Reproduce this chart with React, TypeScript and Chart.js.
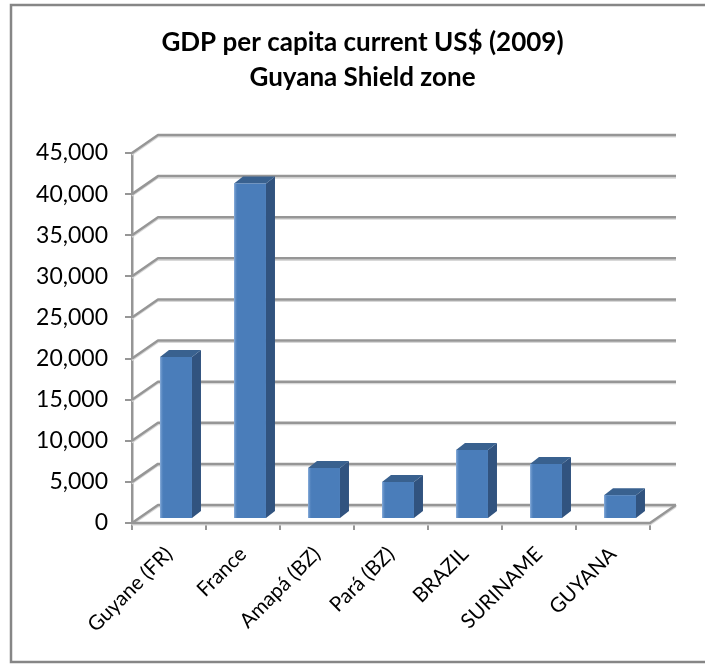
import React, { useEffect, useRef } from "react";
import { Chart, registerables } from "chart.js";

Chart.register(...registerables);

const categories = ["Guyane (FR)", "France", "Amapá (BZ)", "Pará (BZ)", "BRAZIL", "SURINAME", "GUYANA"];
const gdpPerCapita = [19700, 40800, 6200, 4500, 8400, 6700, 2900];
const titleLines = ["GDP per capita current US$ (2009)", "Guyana Shield zone"];

const FONT = "Lato";
const GRID = "#969696";
const DX = 26, DY = 18;
const BAR_DX = 7, BAR_DY = 4, SIDE_DX = 9, SIDE_DY = 7;

const depthPlugin = {
  id: "depth",
  beforeDraw(chart: any) {
    const { ctx } = chart;
    ctx.save();
    ctx.strokeStyle = "#868686";
    ctx.lineWidth = 2.5;
    ctx.strokeRect(11, 5, 800, 657);
    ctx.restore();
  },
  beforeDatasetsDraw(chart: any) {
    const { ctx, chartArea: a, scales } = chart;
    const y = scales.y;
    const stroke = (c: string, w: number, off: number, pts: number[][]) => {
      ctx.strokeStyle = c;
      ctx.lineWidth = w;
      ctx.lineJoin = "round";
      ctx.beginPath();
      pts.forEach((p, i) => (i ? ctx.lineTo(p[0], p[1] + off) : ctx.moveTo(p[0], p[1] + off)));
      ctx.stroke();
    };
    ctx.save();
    y.ticks.forEach((t: any) => {
      const py = y.getPixelForValue(t.value);
      const pts = [[a.left, py], [a.left + DX, py - DY], [a.right + DX, py - DY]];
      stroke("#d8d8d8", 1.5, 1.8, pts);
      stroke(GRID, 2.5, 0, pts);
    });
    const by = y.getPixelForValue(0);
    const floor = [[a.left, by], [a.right, by], [a.right + DX, by - DY]];
    stroke("#d8d8d8", 1.5, 1.8, floor);
    stroke(GRID, 2.5, 0, floor);
    ctx.restore();
  },
  beforeDatasetDraw(chart: any) {
    const { ctx } = chart;
    const meta = chart.getDatasetMeta(0);
    ctx.save();
    ctx.translate(BAR_DX, -BAR_DY);
    meta.data.forEach((b: any) => {
      const l = b.x - b.width / 2, r = b.x + b.width / 2;
      ctx.fillStyle = "#31537f";
      ctx.beginPath();
      ctx.moveTo(r, b.y);
      ctx.lineTo(r + SIDE_DX, b.y - SIDE_DY);
      ctx.lineTo(r + SIDE_DX, b.base - SIDE_DY);
      ctx.lineTo(r, b.base);
      ctx.closePath();
      ctx.fill();
      ctx.fillStyle = "#39618f";
      ctx.beginPath();
      ctx.moveTo(l, b.y);
      ctx.lineTo(l + SIDE_DX, b.y - SIDE_DY);
      ctx.lineTo(r + SIDE_DX, b.y - SIDE_DY);
      ctx.lineTo(r, b.y);
      ctx.closePath();
      ctx.fill();
    });
  },
  afterDatasetDraw(chart: any) {
    const { ctx } = chart;
    const meta = chart.getDatasetMeta(0);
    meta.data.forEach((b: any) => {
      const l = b.x - b.width / 2;
      const g = ctx.createLinearGradient(l, 0, l + 4, 0);
      g.addColorStop(0, "#8db0dc");
      g.addColorStop(1, "rgba(74,125,186,0)");
      ctx.fillStyle = g;
      ctx.fillRect(l, b.y, 4, b.base - b.y);
    });
    ctx.restore();
  },
};

export default function App() {
  const ref = useRef<HTMLCanvasElement>(null);
  useEffect(() => {
    const canvas = ref.current!;
    const chart = new Chart(canvas, {
      type: "bar",
      data: {
        labels: categories,
        datasets: [{ label: "GDP per capita", data: gdpPerCapita, backgroundColor: "#4a7dba", barPercentage: 1, categoryPercentage: 0.432, yAxisID: "y" }],
      },
      plugins: [depthPlugin],
      options: {
        responsive: false,
        animation: false,
        layout: { padding: 0 },
        plugins: {
          legend: { display: false },
          tooltip: { enabled: false },
          title: {
            display: true,
            text: titleLines,
            color: "#000",
            font: { family: FONT, size: 26, weight: "bold", lineHeight: 1.346 },
            padding: { top: 25, bottom: 58 },
          },
        },
        scales: {
          x: {
            afterFit: (s: any) => { s.height = 143; },
            border: { color: GRID, width: 2.5 },
            grid: { display: true, drawOnChartArea: false, drawTicks: true, tickLength: 7, color: GRID, lineWidth: 2, offset: true },
            ticks: { color: "#000", font: { family: FONT, size: 20.5 }, minRotation: 45, maxRotation: 45, padding: 12, autoSkip: false },
          },
          y: {
            min: 0,
            max: 45000,
            afterFit: (s: any) => { s.width = 132; },
            border: { color: GRID, width: 2.5 },
            grid: { display: true, drawOnChartArea: false, drawTicks: true, tickLength: 7, color: GRID, lineWidth: 2 },
            ticks: { stepSize: 5000, color: "#000", font: { family: FONT, size: 23 }, padding: 17, callback: (v: any) => Number(v).toLocaleString("en-US") },
          },
          yr: {
            position: "right",
            afterFit: (s: any) => { s.width = 75; },
            border: { display: false },
            grid: { display: false },
            ticks: { display: false },
          },
        },
      },
    });
    return () => chart.destroy();
  }, []);
  return (
    <div style={{ position: "absolute", left: 0, top: 0, width: 705, height: 666, overflow: "hidden", background: "#fff" }}>
      <canvas ref={ref} width={725} height={666} style={{ display: "block" }} />
    </div>
  );
}
